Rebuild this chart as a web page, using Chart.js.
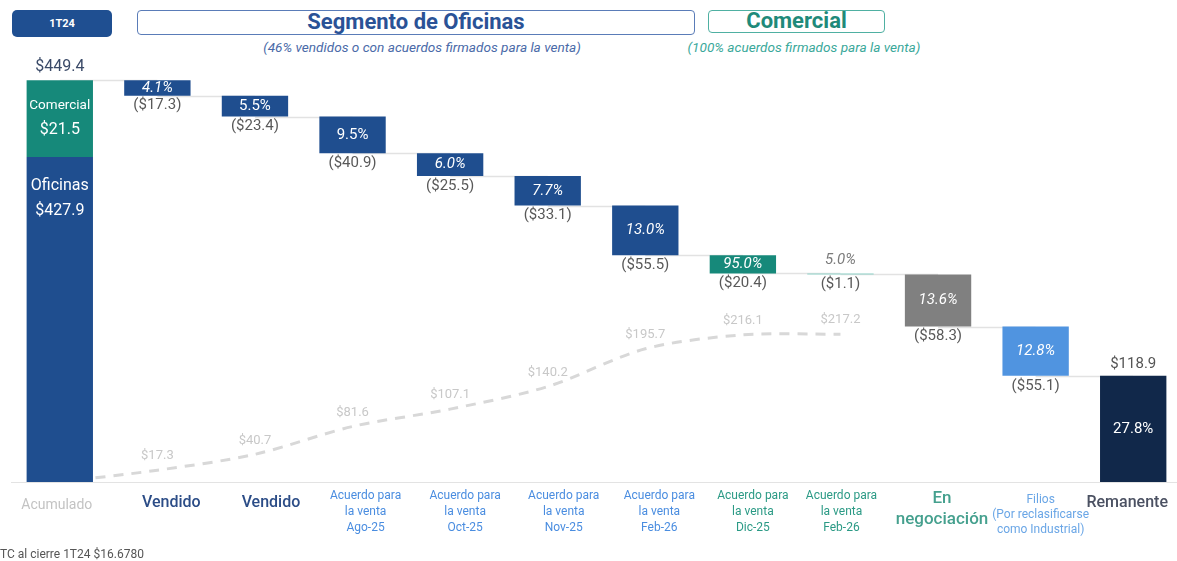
<!DOCTYPE html>
<html lang="es">
<head>
<meta charset="utf-8">
<title>Segmento de Oficinas 1T24</title>
<script src="https://cdn.jsdelivr.net/npm/chart.js@4.4.1/dist/chart.umd.min.js"></script>
<style>
  html, body { margin: 0; padding: 0; background: #fff; overflow: hidden; }
  body { width: 1177px; height: 561px; position: relative; font-family: Roboto, 'Noto Sans', sans-serif; }
  #chartBox { position: absolute; left: 0; top: 0; }
  .hdr { position: absolute; box-sizing: border-box; text-align: center; }
  #tag { left: 12px; top: 10px; width: 100px; height: 27px; background: #1f4f91; border-radius: 5px;
         color: #fff; font-size: 11px; font-weight: 700; line-height: 27px; }
  #ofi { left: 137px; top: 10px; width: 558px; height: 25px; border: 1.5px solid #5a7cb8; border-radius: 4px;
         color: #2a5296; font-size: 22px; font-weight: 700; line-height: 22px; }
  #com { left: 708px; top: 10px; width: 177px; height: 23px; border: 1.5px solid #4fb0a2; border-radius: 4px;
         color: #1f8a7a; font-size: 22px; font-weight: 700; line-height: 20px; }
  .sub { position: absolute; top: 39px; font-size: 13.6px; font-style: italic; white-space: nowrap; transform: translateX(-50%); }
  #ofiSub { left: 422px; color: #4a6aa8; }
  #comSub { left: 804px; color: #3aa89a; }
  #foot { position: absolute; left: 0; top: 547px; font-size: 12px; color: #555; white-space: nowrap; }
</style>
</head>
<body>
<div class="hdr" id="tag">1T24</div>
<div class="hdr" id="ofi">Segmento de Oficinas</div>
<div class="hdr" id="com">Comercial</div>
<div class="sub" id="ofiSub">(46% vendidos o con acuerdos firmados para la venta)</div>
<div class="sub" id="comSub">(100% acuerdos firmados para la venta)</div>
<canvas id="chartBox" width="1190" height="561"></canvas>
<div id="foot">TC al cierre 1T24 $16.6780</div>

<script>
// ---- data ----
const categories = [
  'Acumulado', 'Vendido', 'Vendido',
  ['Acuerdo para', 'la venta', 'Ago-25'],
  ['Acuerdo para', 'la venta', 'Oct-25'],
  ['Acuerdo para', 'la venta', 'Nov-25'],
  ['Acuerdo para', 'la venta', 'Feb-26'],
  ['Acuerdo para', 'la venta', 'Dic-25'],
  ['Acuerdo para', 'la venta', 'Feb-26'],
  ['En', 'negociación'],
  ['Filios', '(Por reclasificarse', 'como Industrial)'],
  'Remanente'
];

const totalInicial = 449.4;
const oficinas = 427.9;
const comercial = 21.5;
// the reference draws the Comercial part of the first bar larger than its value
const splitShown = 363.5;

const stepAmounts = [17.3, 23.4, 40.9, 25.5, 33.1, 55.5, 20.4, 1.1, 58.3, 55.1];
const stepPercents = ['4.1%', '5.5%', '9.5%', '6.0%', '7.7%', '13.0%', '95.0%', '5.0%', '13.6%', '12.8%'];

const remanente = 118.9;
const remanentePct = '27.8%';

const cumulative = [0, 17.3, 40.7, 81.6, 107.1, 140.2, 195.7, 216.1, 217.2];

// ---- build floating bars ----
const bars = [[0, splitShown]];
let level = totalInicial;
stepAmounts.forEach(v => {
  bars.push([level - v, level]);
  level -= v;
});
bars.push([0, remanente]);

const comercialBar = categories.map((c, i) => i === 0 ? [splitShown, totalInicial] : null);

const barColors = ['#1f4e8f', '#1f4e8f', '#1f4e8f', '#1f4e8f', '#1f4e8f', '#1f4e8f', '#1f4e8f',
                   '#16897a', '#8fd3ca', '#808080', '#5094e0', '#11284a'];
const uprightPct = [2, 3];   // the rest of the percent labels are italic

// the slide's text boxes are not exactly centred under the bars
const tickNudge = [[-3, 0], [14, 0], [16, 0], [13, 0], [15, 0], [16, 0], [14, 0],
                   [10, 0], [1, 0], [4, 0], [5, 4], [-6, 0]];

function money(v) { return '$' + v.toFixed(1); }

// tick label styles per category
function tickStyle(i) {
  if (i === 0) return { color: '#c3c3c3', font: { family: 'Roboto', size: 14, lineHeight: '34px' } };
  if (i <= 2) return { color: '#2c4d87', font: { family: 'Roboto', size: 16, weight: '500', lineHeight: '30px' } };
  if (i <= 6) return { color: '#4a8de0', font: { family: 'Roboto', size: 12, lineHeight: '16px' } };
  if (i <= 8) return { color: '#2b9a85', font: { family: 'Roboto', size: 12, lineHeight: '16px' } };
  if (i === 9) return { color: '#45a08e', font: { family: 'Roboto', size: 17, weight: '500', lineHeight: '21px' } };
  if (i === 10) return { color: '#6aa6e6', font: { family: 'Roboto', size: 12, lineHeight: '15px' } };
  return { color: '#4b5162', font: { family: 'Roboto', size: 16, weight: '500', lineHeight: '30px' } };
}

// connectors and value labels
const waterfallLabels = {
  id: 'waterfallLabels',
  beforeDraw(chart) {
    const items = chart.scales.x.getLabelItems();
    if (items._nudged) return;
    items._nudged = true;
    items.forEach((it, i) => {
      const n = tickNudge[i] || [0, 0];
      it.options.translation[0] += n[0];
      it.options.translation[1] += n[1];
    });
  },
  beforeDatasetsDraw(chart) {
    const ctx = chart.ctx;
    const x = chart.scales.x, y = chart.scales.y;
    ctx.save();
    ctx.strokeStyle = '#e2e2e2';
    ctx.lineWidth = 1.5;
    for (let i = 0; i < bars.length - 1; i++) {
      const py = Math.round(y.getPixelForValue(bars[i + 1][1])) + 0.5;
      ctx.beginPath();
      ctx.moveTo(x.getPixelForValue(i), py);
      ctx.lineTo(x.getPixelForValue(i + 1), py);
      ctx.stroke();
    }
    ctx.restore();
  },
  afterDatasetsDraw(chart) {
    const ctx = chart.ctx;
    const x = chart.scales.x, y = chart.scales.y;
    ctx.save();
    ctx.textAlign = 'center';
    ctx.textBaseline = 'middle';

    // first bar
    const x0 = x.getPixelForValue(0);
    const top0 = y.getPixelForValue(totalInicial);
    const split0 = y.getPixelForValue(splitShown);
    ctx.fillStyle = '#3a4a68';
    ctx.font = '16px Roboto';
    ctx.fillText(money(totalInicial), x0, top0 - 13);
    ctx.fillStyle = '#ffffff';
    ctx.font = '13.5px Roboto';
    ctx.fillText('Comercial', x0, top0 + 25);
    ctx.font = '16px Roboto';
    ctx.fillText(money(comercial), x0, top0 + 50);
    ctx.fillText('Oficinas', x0, split0 + 29);
    ctx.fillText(money(oficinas), x0, split0 + 54);

    // steps
    stepAmounts.forEach((v, k) => {
      const i = k + 1;
      const cx = x.getPixelForValue(i);
      const pTop = y.getPixelForValue(bars[i][1]);
      const pBot = y.getPixelForValue(bars[i][0]);
      const italic = uprightPct.includes(i) ? '' : 'italic ';
      if (pBot - pTop < 8) {
        ctx.fillStyle = '#7a7a7a';
        ctx.font = italic + '15px Roboto';
        ctx.fillText(stepPercents[k], cx, pTop - 13);
      } else {
        ctx.fillStyle = '#ffffff';
        ctx.font = italic + '15px Roboto';
        ctx.fillText(stepPercents[k], cx, (pTop + pBot) / 2);
      }
      ctx.fillStyle = '#595959';
      ctx.font = '15px Roboto';
      ctx.fillText('(' + money(v) + ')', cx, pBot + 10);
    });

    // remanente
    const xr = x.getPixelForValue(bars.length - 1);
    const topR = y.getPixelForValue(remanente);
    ctx.fillStyle = '#555555';
    ctx.font = '15px Roboto';
    ctx.fillText(money(remanente), xr, topR - 11);
    ctx.fillStyle = '#ffffff';
    ctx.font = '15px Roboto';
    ctx.fillText(remanentePct, xr, (topR + y.getPixelForValue(0)) / 2);

    // cumulative line labels
    const lineMeta = chart.getDatasetMeta(2);
    ctx.fillStyle = '#c8c8c8';
    ctx.font = '13px Roboto';
    lineMeta.data.forEach((pt, i) => {
      if (i === 0) return;
      ctx.fillText(money(cumulative[i]), pt.x, pt.y - 14);
    });
    ctx.restore();
  }
};

const ctx = document.getElementById('chartBox').getContext('2d');
const chart = new Chart(ctx, {
  data: {
    labels: categories,
    datasets: [
      {
        type: 'bar',
        data: bars,
        backgroundColor: barColors,
        grouped: false,
        categoryPercentage: 1,
        barPercentage: 0.68,
        order: 1
      },
      {
        type: 'bar',
        data: comercialBar,
        backgroundColor: '#16897a',
        grouped: false,
        categoryPercentage: 1,
        barPercentage: 0.68,
        order: 1
      },
      {
        type: 'line',
        data: cumulative,
        yAxisID: 'y2',
        borderColor: '#d8d8d8',
        borderWidth: 3,
        borderDash: [10, 8],
        pointRadius: 0,
        tension: 0.3,
        order: 3
      }
    ]
  },
  options: {
    responsive: false,
    animation: false,
    layout: { padding: { top: 60, left: 11, right: 8, bottom: 0 } },
    plugins: {
      legend: { display: false },
      tooltip: { enabled: false }
    },
    scales: {
      x: {
        grid: { display: false, drawTicks: false },
        border: { display: true, color: '#e3e3e3', width: 1 },
        afterFit: (scale) => { scale.height = 79; },
        ticks: {
          autoSkip: false,
          maxRotation: 0,
          padding: 6,
          color: (c) => tickStyle(c.index).color,
          font: (c) => tickStyle(c.index).font
        }
      },
      y: { display: false, min: 0, max: 472 },
      y2: { display: false, min: 0, max: 620 }
    }
  },
  plugins: [waterfallLabels]
});
</script>
</body>
</html>
